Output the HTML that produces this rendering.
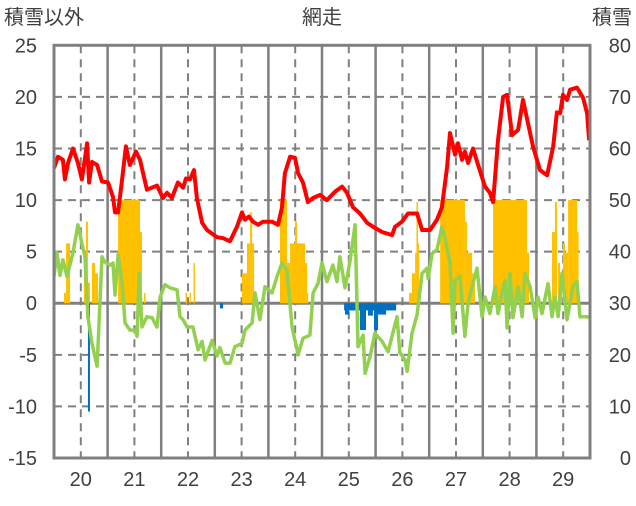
<!DOCTYPE html>
<html><head><meta charset="utf-8"><style>
html,body{margin:0;padding:0;background:#fff;}
svg text{font-family:"Liberation Sans","Noto Sans CJK JP",sans-serif;fill:#404040;}
</style></head><body>
<svg id="chart" width="636" height="501" viewBox="0 0 636 501" xmlns="http://www.w3.org/2000/svg">
<text x="4" y="24" font-size="20">積雪以外</text>
<text x="322" y="24" font-size="20" text-anchor="middle">網走</text>
<text x="632" y="24" font-size="20" text-anchor="end">積雪</text>
<g id="grid"></g>
<g id="bars"></g>
<g id="lines"></g>
<g id="axes"></g>
</svg>
<script>
const dayLabels=["20","21","22","23","24","25","26","27","28","29"];
const leftTicks=[25,20,15,10,5,0,-5,-10,-15];
const rightTicks=[80,70,60,50,40,30,20,10,0];
const redHours=[0,1.8,4,4.9,6.3,8.5,10.7,12.5,14.8,15.7,17,19.3,21.5,24.2,26.4,27.3,28.7,30.5,32.2,34,36.7,38.5,41.6,46.1,48.8,50.6,52.8,55.5,57.8,59.1,60.9,62.7,64,66.3,68.5,73,75.7,78.8,81.9,84.2,85.5,87.3,89.1,91.4,93.6,97.6,100.3,102.1,103.4,105.7,107.9,109.3,111.5,113.7,116,119.1,122.2,125.8,129,131.2,133.9,137,140.2,143.7,146.9,151.4,152.7,155.8,158.5,162.6,164.8,168.4,171.5,173.7,176,177.3,179.6,180.9,182.7,184,185.4,187.6,189.9,193,195.2,196.6,198.8,201.1,202.9,205.1,207.8,210,212.3,214.5,217.6,220.8,223.5,225.2,226.6,227.9,229.7,231.1,234.2,236.9,238.7,239.6];
const redValues=[13.1,14.2,13.9,12,13.6,15,13.6,12,15.5,11.7,13.7,13.4,11.8,11.7,10.3,8.8,8.8,12,15.2,13.4,14.7,13.9,11,11.4,10.2,10.7,10.2,11.7,11.2,12.1,12,12.9,10.2,7.8,7.1,6.4,6.3,6.0,7.4,8.8,8.1,8.4,7.9,7.6,7.9,7.9,7.6,9.3,12.6,14.2,14.1,12.6,11.7,9.8,10.2,10.5,10,10.8,11.3,10.7,9.3,8.7,7.8,7.3,6.9,6.6,7.4,7.9,8.7,8.7,7.1,7.1,8.1,9.3,13.2,16.5,14.4,15.5,13.9,14.7,13.6,15,13.4,11.3,10.7,9.8,15.8,20,20.2,16.3,16.8,19.7,17.4,15.2,12.9,12.4,15.2,18.5,18.4,20.2,19.7,20.7,20.9,19.9,18.4,15.8];
const greenHours=[0,1.3,2.7,4,5.8,8.5,10.7,12.5,13.9,15.2,17,19.3,21.5,22.8,25.1,26.4,27.3,28.7,30.5,31.8,34,36.3,37.2,38.1,39.4,41.6,43.9,46.1,47.5,49.7,51.9,55.1,56.4,57.8,59.6,62.2,64.5,66.3,67.6,70.8,73,74.3,76.6,78.8,81,84.2,85.5,88.7,90,92.2,94.5,97.6,99.9,102.1,104.3,106.6,109.3,111.5,114.6,116,118.2,120,122.2,124.9,126.7,128,130.3,132.5,134.8,136.1,138.4,139.3,141.5,143.7,146.9,149.6,153.6,154.9,157.2,158.1,160.3,162.6,164.8,167,167.5,169.3,171.5,173.7,175.1,177.3,178.7,179.6,181.8,184,185.4,187.2,189.4,191.7,193,195.2,197.5,198.8,200.6,202,202.9,204.2,205.5,207.8,209.6,210.9,213.2,215.4,216.7,218.5,221.2,223,224.3,225.7,227.5,229.7,232.4,234.2,235.5,238.7,240];
const greenValues=[2.6,4.9,2.7,4.2,2.6,4.9,7.6,5.8,4.5,-1.3,-3.9,-6.1,4.5,4,3.7,3.9,0.8,4.7,2,-1.9,-2.6,-2.6,-3.2,2.9,-2.3,-1.3,-1.4,-2.3,0.6,1.8,1.5,1.3,-1.3,-1.6,-2.3,-2.3,-4.5,-3.7,-5.5,-3.6,-5.1,-4.3,-5.8,-5.8,-4.2,-3.9,-2.6,-1.9,1,-1.6,1.6,1,2.6,3.9,3.2,-2.3,-5,-3.4,-3.1,1,1.9,3.9,2.1,3.7,2.1,4.5,1.5,4,7.6,-4.2,-3.1,-6.8,-5.2,-2.9,-3.7,-4.7,-1.3,-4.8,-5.5,-6.6,-2.9,-1.1,2.9,3.4,2.4,4.8,5.2,7.4,6.3,3.9,-2.9,2.2,2.6,-3.2,0,1.6,3.4,-1.3,0.6,-1,1.6,-1,1,2.2,-2.4,2.9,-1.4,1.6,-1.3,2.9,1.6,-1.4,0.6,-1,1.9,-1.3,0.6,-1.3,2.9,-1.6,1.6,2.1,-1.3,-1.3,-1.4];
const orangeStart=[4.5,5.4,13.4,14.3,15.2,17,18.4,28.7,38.5,40.3,58.9,60.7,62.5,84.2,86.4,87.8,88.7,101.2,104.3,105.7,107.9,108.8,112.4,113.3,159,160.3,161.7,162.3,163,172.9,184,184.9,187.2,196.6,211.8,223,224.3,225.7,226.6,227.9,228.8,230.2,234.2];
const orangeEnd=[5.4,7.2,14.3,15.2,16.1,18.4,19.7,38.5,39.4,41,59.6,61.3,63.1,86.4,87.8,88.7,89.6,104.3,105.7,107.9,108.8,112.4,113.3,113.7,160.3,161.7,162.3,163,163.4,184,184.9,187.2,188.5,211.8,212.7,224.3,225.2,226.6,227.5,228.8,230.2,234.2,234.9];
const orangeValues=[1,5.8,2.9,7.9,2,3.9,2.9,10,6.9,1,1,1,3.9,2.9,5.8,8.8,5.8,10,3.9,5.8,7.9,5.8,3.9,1,1,2.9,4.9,9.8,5.8,10,7.9,4.9,2.9,10,4.9,6.9,9.8,3.9,2.9,5.8,4.9,10,6.9];
const blueStart=[15.2,74.3,129.9,130.3,137,140.6,143.3,145.1];
const blueEnd=[16.1,75.7,153.2,132.1,139.7,142.8,145.1,148.7];
const blueValues=[-10.5,-0.5,-0.7,-1.1,-2.6,-1.2,-2.6,-1.1];

const NS="http://www.w3.org/2000/svg";
const X0=54,X1=590,Y0=45.3,Y1=458;
const dayW=(X1-X0)/10;
function xH(h){return X0+h*dayW/24;}
function yL(v){return Y1-(v+15)/40*(Y1-Y0);}
function yR(v){return Y1-v/80*(Y1-Y0);}
function mk(tag,parent,attrs){const e=document.createElementNS(NS,tag);for(const k in attrs)e.setAttribute(k,attrs[k]);parent.appendChild(e);return e;}
const grid=document.getElementById('grid'),bars=document.getElementById('bars'),lines=document.getElementById('lines'),axes=document.getElementById('axes');
leftTicks.forEach(function(v){
  if(v===25||v===-15)return;
  const l=mk('line',grid,{x1:X0,x2:X1,y1:yL(v),y2:yL(v),stroke:'#808080','stroke-width':v===0?3:2,'stroke-dasharray':v===0?'none':'8,6'});
  
  
});
for(let d=0;d<10;d++){
  const dl=mk('line',grid,{x1:X0+(d+0.5)*dayW,x2:X0+(d+0.5)*dayW,y1:Y0,y2:Y1,stroke:'#808080','stroke-width':2,'stroke-dasharray':'8,6'});
  
  
  if(d>0){
    const sl=mk('line',grid,{x1:X0+d*dayW,x2:X0+d*dayW,y1:Y0,y2:Y1,stroke:'#808080','stroke-width':2.5});
    
    
  }
  const t=mk('text',axes,{x:X0+(d+0.5)*dayW,y:486,'font-size':20,'text-anchor':'middle'});
  t.textContent=dayLabels[d];
  
  
}
orangeStart.forEach(function(s,i){
  const r=mk('rect',bars,{x:xH(s),width:Math.max(1.2,xH(orangeEnd[i])-xH(s)),y:yL(orangeValues[i]),height:yL(0)-yL(orangeValues[i]),fill:'#FFC000'});
  
  
});
blueStart.forEach(function(s,i){
  const r=mk('rect',bars,{x:xH(s),width:Math.max(1.2,xH(blueEnd[i])-xH(s)),y:yL(0),height:yL(blueValues[i])-yL(0),fill:'#0070C0'});
  
  
});
function pathOf(hs,vs){return hs.map(function(h,i){return (i?'L':'M')+xH(h).toFixed(1)+','+yL(vs[i]).toFixed(1);}).join('');}
const g=mk('path',lines,{d:pathOf(greenHours,greenValues),fill:'none',stroke:'#92D050','stroke-width':3.5,'stroke-linejoin':'round'});


const r=mk('path',lines,{d:pathOf(redHours,redValues),fill:'none',stroke:'#FF0000','stroke-width':4,'stroke-linejoin':'round'});


const b=mk('rect',axes,{x:X0,y:Y0,width:X1-X0,height:Y1-Y0,fill:'none',stroke:'#808080','stroke-width':3});


leftTicks.forEach(function(v){
  const t=mk('text',axes,{x:37,y:yL(v)+7,'font-size':20,'text-anchor':'end'});
  t.textContent=v;
  
  
});
rightTicks.forEach(function(v){
  const t=mk('text',axes,{x:631,y:yR(v)+7,'font-size':20,'text-anchor':'end'});
  t.textContent=v;
  
  
});
</script>
</body></html>
